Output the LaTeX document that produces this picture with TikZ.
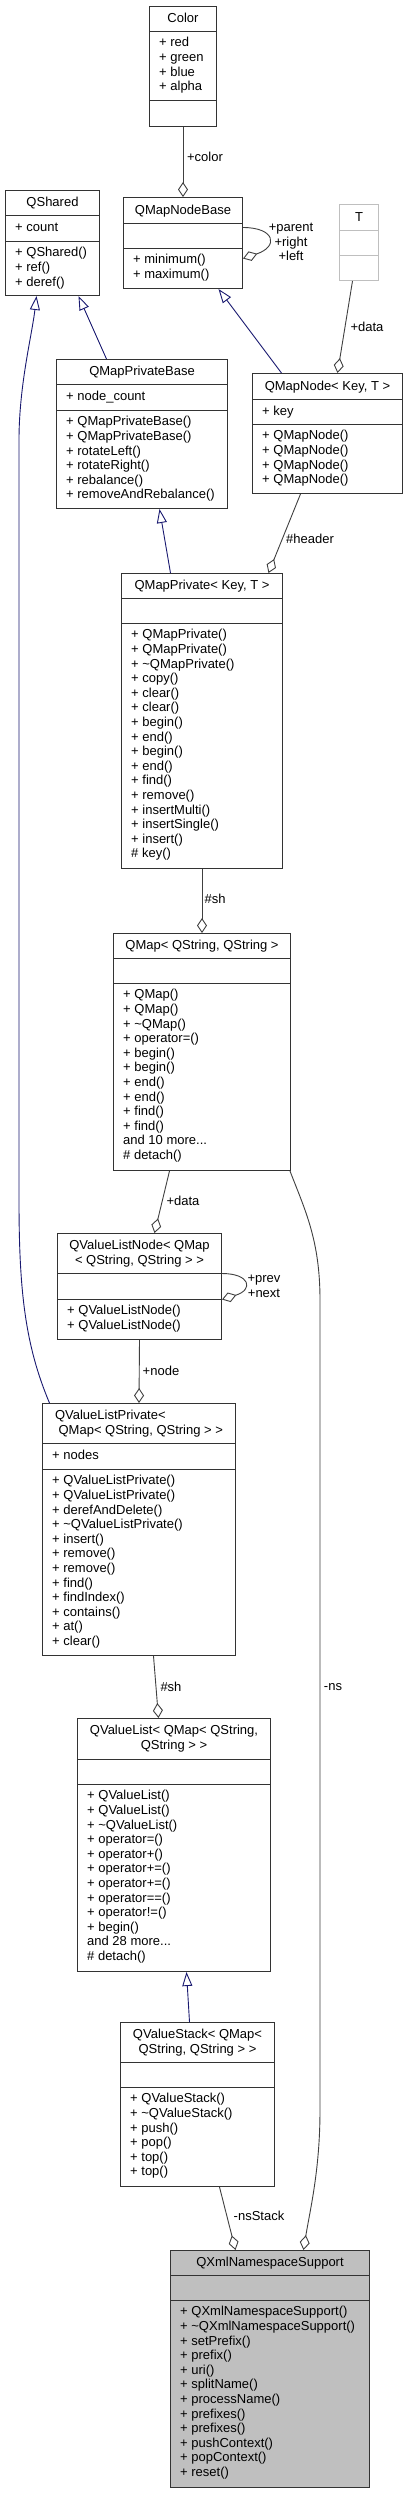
\documentclass[tikz,border=0pt]{standalone}
\usepackage{fontspec}
\setmainfont{Liberation Sans}
\usetikzlibrary{arrows.meta}

\definecolor{edgegrey}{HTML}{404040}
\definecolor{inhblue}{HTML}{191970}
\definecolor{boxgrey}{HTML}{333333}
\definecolor{lightgrey}{HTML}{BFBFBF}

\newcommand{\umlfont}{\fontsize{13}{14.6}\selectfont}
% separator lines of a class box: #1 node, #2 title height, #3 title+attribute height
\newcommand{\compartments}[3]{%
  \draw[sep] ([yshift=-#2pt]#1.north west) -- ([yshift=-#2pt]#1.north east);
  \draw[sep] ([yshift=-#3pt]#1.north west) -- ([yshift=-#3pt]#1.north east);}

\begin{document}
\begin{tikzpicture}[x=1pt, y=-1pt,
    cls/.style={draw=boxgrey, line width=1pt, fill=white, inner sep=0pt, anchor=north west},
    sep/.style={draw=boxgrey, line width=1pt},
    ttl/.style={font=\umlfont, anchor=base, align=center, inner sep=0pt},
    ttltwo/.style={font=\umlfont, anchor=north, align=center, inner sep=0pt, execute at begin node=\strut},
    mbr/.style={font=\umlfont, anchor=north west, align=left, inner sep=0pt, execute at begin node=\strut},
    lbl/.style={font=\umlfont, align=center, inner sep=0pt},
    agg/.style={draw=edgegrey, line width=0.9pt, -{Diamond[open, length=15pt, width=10pt]}},
    inh/.style={draw=inhblue, line width=0.9pt, -{Triangle[open, length=14pt, width=10pt]}}
  ]
  \path[fill=white] (0,0) rectangle (407,2493);

  % top row
  \node[cls, minimum width=67pt, minimum height=120pt] (color) at (149,6) {};
  \compartments{color}{25}{94}
  \node[ttl] (colorT) at ([yshift=-16.5pt]color.north) {Color};
  \node[mbr] (colorA) at ([xshift=10pt,yshift=-31.3pt]color.north west) {+ red\\+ green\\+ blue\\+ alpha};

  \node[cls, minimum width=94pt, minimum height=105pt] (qshared) at (5,190) {};
  \compartments{qshared}{25}{51}
  \node[ttl] (qsharedT) at ([yshift=-16.5pt]qshared.north) {QShared};
  \node[mbr] (qsharedA) at ([xshift=10pt,yshift=-31.3pt]qshared.north west) {+ count};
  \node[mbr] (qsharedM) at ([xshift=10pt,yshift=-57.3pt]qshared.north west) {+ QShared()\\+ ref()\\+ deref()};

  \node[cls, minimum width=119pt, minimum height=91pt] (qmnb) at (123,197) {};
  \compartments{qmnb}{26}{51}
  \node[ttl] (qmnbT) at ([yshift=-17pt]qmnb.north) {QMapNodeBase};
  \node[mbr] (qmnbM) at ([xshift=10pt,yshift=-57.3pt]qmnb.north west) {+ minimum()\\+ maximum()};

  \node[cls, draw=lightgrey, minimum width=39pt, minimum height=76pt] (tcls) at (339,204) {};
  \draw[sep, draw=lightgrey] ([yshift=-26pt]tcls.north west) -- ([yshift=-26pt]tcls.north east);
  \draw[sep, draw=lightgrey] ([yshift=-51pt]tcls.north west) -- ([yshift=-51pt]tcls.north east);
  \node[ttl] (tclsT) at ([yshift=-17pt]tcls.north) {T};

  % map classes
  \node[cls, minimum width=171pt, minimum height=149pt] (qmpb) at (56,359) {};
  \compartments{qmpb}{25}{51}
  \node[ttl] (qmpbT) at ([yshift=-16.5pt]qmpb.north) {QMapPrivateBase};
  \node[mbr] (qmpbA) at ([xshift=10pt,yshift=-31.3pt]qmpb.north west) {+ node\_count};
  \node[mbr] (qmpbM) at ([xshift=10pt,yshift=-57.3pt]qmpb.north west) {+ QMapPrivateBase()\\+ QMapPrivateBase()\\+ rotateLeft()\\+ rotateRight()\\+ rebalance()\\+ removeAndRebalance()};

  \node[cls, minimum width=150pt, minimum height=120pt] (qmapnode) at (252,373) {};
  \compartments{qmapnode}{26}{51}
  \node[ttl] (qmapnodeT) at ([yshift=-17pt]qmapnode.north) {QMapNode< Key, T >};
  \node[mbr] (qmapnodeA) at ([xshift=10pt,yshift=-32.3pt]qmapnode.north west) {+ key};
  \node[mbr] (qmapnodeM) at ([xshift=10pt,yshift=-57.3pt]qmapnode.north west) {+ QMapNode()\\+ QMapNode()\\+ QMapNode()\\+ QMapNode()};

  \node[cls, minimum width=161pt, minimum height=295pt] (qmapprivate) at (121,573) {};
  \compartments{qmapprivate}{25}{50}
  \node[ttl] (qmapprivateT) at ([yshift=-16.5pt]qmapprivate.north) {QMapPrivate< Key, T >};
  \node[mbr] (qmapprivateM) at ([xshift=10pt,yshift=-56.3pt]qmapprivate.north west) {+ QMapPrivate()\\+ QMapPrivate()\\+ \textasciitilde QMapPrivate()\\+ copy()\\+ clear()\\+ clear()\\+ begin()\\+ end()\\+ begin()\\+ end()\\+ find()\\+ remove()\\+ insertMulti()\\+ insertSingle()\\+ insert()\\\# key()};

  \node[cls, minimum width=177pt, minimum height=237pt] (qmap) at (113,933) {};
  \compartments{qmap}{25}{50}
  \node[ttl] (qmapT) at ([yshift=-16.5pt]qmap.north) {QMap< QString, QString >};
  \node[mbr] (qmapM) at ([xshift=10pt,yshift=-56.3pt]qmap.north west) {+ QMap()\\+ QMap()\\+ \textasciitilde QMap()\\+ operator=()\\+ begin()\\+ begin()\\+ end()\\+ end()\\+ find()\\+ find()\\and 10 more...\\\# detach()};

  % value list classes
  \node[cls, minimum width=164pt, minimum height=106pt] (qvln) at (57,1233) {};
  \compartments{qvln}{40}{66}
  \node[ttltwo] (qvlnT) at ([yshift=-7.3pt]qvln.north) {QValueListNode< QMap\\< QString, QString > >};
  \node[mbr] (qvlnM) at ([xshift=10pt,yshift=-72.3pt]qvln.north west) {+ QValueListNode()\\+ QValueListNode()};

  \node[cls, minimum width=193pt, minimum height=252pt] (qvlp) at (42,1403) {};
  \compartments{qvlp}{40}{66}
  \node[ttltwo, align=left] (qvlpT) at ([yshift=-7.3pt]qvlp.north) {QValueListPrivate<\\\ QMap< QString, QString > >};
  \node[mbr] (qvlpA) at ([xshift=10pt,yshift=-46.3pt]qvlp.north west) {+ nodes};
  \node[mbr] (qvlpM) at ([xshift=10pt,yshift=-72.3pt]qvlp.north west) {+ QValueListPrivate()\\+ QValueListPrivate()\\+ derefAndDelete()\\+ \textasciitilde QValueListPrivate()\\+ insert()\\+ remove()\\+ remove()\\+ find()\\+ findIndex()\\+ contains()\\+ at()\\+ clear()};

  \node[cls, minimum width=193pt, minimum height=253pt] (qvl) at (77,1718) {};
  \compartments{qvl}{41}{66}
  \node[ttltwo] (qvlT) at ([yshift=-7.3pt]qvl.north) {QValueList< QMap< QString,\\QString > >};
  \node[mbr] (qvlM) at ([xshift=10pt,yshift=-72.3pt]qvl.north west) {+ QValueList()\\+ QValueList()\\+ \textasciitilde QValueList()\\+ operator=()\\+ operator+()\\+ operator+=()\\+ operator+=()\\+ operator==()\\+ operator!=()\\+ begin()\\and 28 more...\\\# detach()};

  \node[cls, minimum width=154pt, minimum height=164pt] (qvs) at (120,2022) {};
  \compartments{qvs}{40}{65}
  \node[ttltwo] (qvsT) at ([yshift=-7.3pt]qvs.north) {QValueStack< QMap<\\QString, QString > >};
  \node[mbr] (qvsM) at ([xshift=10pt,yshift=-71.3pt]qvs.north west) {+ QValueStack()\\+ \textasciitilde QValueStack()\\+ push()\\+ pop()\\+ top()\\+ top()};

  \node[cls, fill=lightgrey, minimum width=199pt, minimum height=237pt] (qxmlns) at (170,2250) {};
  \compartments{qxmlns}{25}{50}
  \node[ttl] (qxmlnsT) at ([yshift=-16.5pt]qxmlns.north) {QXmlNamespaceSupport};
  \node[mbr] (qxmlnsM) at ([xshift=10pt,yshift=-56.3pt]qxmlns.north west) {+ QXmlNamespaceSupport()\\+ \textasciitilde QXmlNamespaceSupport()\\+ setPrefix()\\+ prefix()\\+ uri()\\+ splitName()\\+ processName()\\+ prefixes()\\+ prefixes()\\+ pushContext()\\+ popContext()\\+ reset()};

  % inheritance
  \draw[inh] ([xshift=-46pt]qmapnode.north) -- ([xshift=35.5pt]qmnb.south);
  \draw[inh] ([xshift=-35.5pt]qmpb.north) -- ([xshift=26pt]qshared.south);
  \draw[inh] ([xshift=-89.5pt]qvlp.north) .. controls (25,1345) and (19,1290) .. (19,1200)
    -- (19,440) .. controls (19,385) and (32,335) .. ([xshift=-16pt]qshared.south);
  \draw[inh] ([xshift=-31.5pt]qmapprivate.north) -- ([xshift=17.5pt]qmpb.south);
  \draw[inh] ([xshift=-8pt]qvs.north) -- ([xshift=12.5pt]qvl.south);

  % members
  \draw[agg] (color.south) -- (qmnb.north);
  \draw[agg] ([yshift=15.5pt]qmnb.east) .. controls +(32,0) and +(36,-12) .. ([yshift=-15.5pt]qmnb.east);
  \draw[agg] ([xshift=-6.5pt]tcls.south) -- ([xshift=10pt]qmapnode.north);
  \draw[agg] ([xshift=-27pt]qmapnode.south) -- ([xshift=66.5pt]qmapprivate.north);
  \draw[agg] (qmapprivate.south) -- (qmap.north);
  \draw[agg] ([xshift=-32.5pt]qmap.south) -- ([xshift=15pt]qvln.north);
  \draw[agg] ([xshift=-1pt]qmap.south east) .. controls (305,1210) and (320,1240) .. (320,1300)
    -- (320,2110) .. controls (320,2170) and (310,2210) .. ([xshift=33.5pt]qxmlns.north);
  \draw[agg] ([yshift=13pt]qvln.east) .. controls +(28,0) and +(32,-10) .. ([yshift=-13pt]qvln.east);
  \draw[agg] (qvln.south) -- (qvlp.north);
  \draw[agg] ([xshift=14.5pt]qvlp.south) -- ([xshift=-15.5pt]qvl.north);
  \draw[agg] ([xshift=22pt]qvs.south) -- ([xshift=-34.5pt]qxmlns.north);

  % edge labels
  \node[lbl] (lcolor) at (205,157) {+color};
  \node[lbl] (lloopA) at (291,242) {+parent\\+right\\+left};
  \node[lbl] (ldataA) at (367,327) {+data};
  \node[lbl] (lheader) at (310,539) {\#header};
  \node[lbl] (lshA) at (215,899) {\#sh};
  \node[lbl] (ldataB) at (183,1201) {+data};
  \node[lbl] (lns) at (333,1687) {-ns};
  \node[lbl] (lloopB) at (264,1286) {+prev\\+next};
  \node[lbl] (lnode) at (161,1371) {+node};
  \node[lbl] (lshB) at (171,1687) {\#sh};
  \node[lbl] (lnsstack) at (259,2216) {-nsStack};
\end{tikzpicture}
\end{document}
